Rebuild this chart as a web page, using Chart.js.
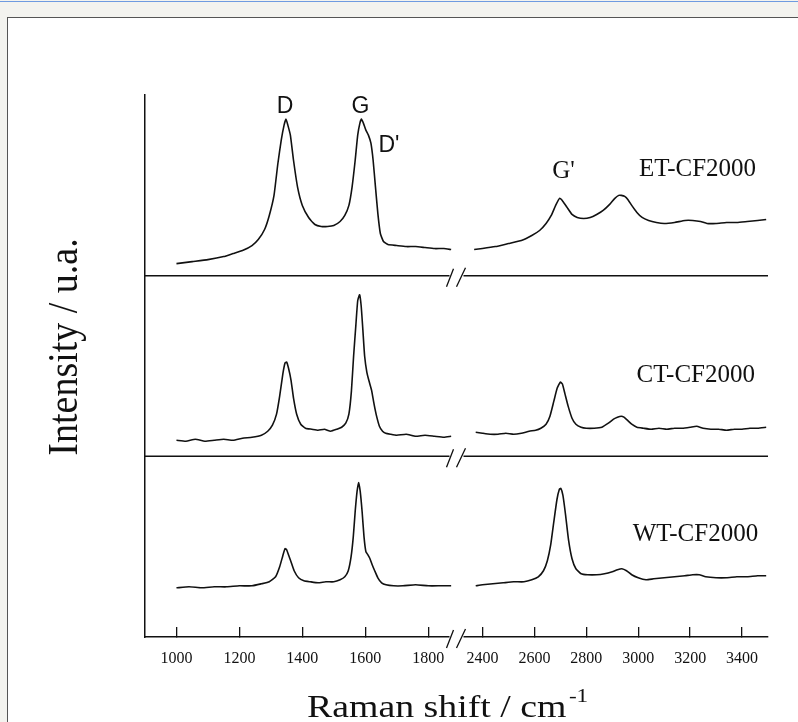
<!DOCTYPE html>
<html><head><meta charset="utf-8">
<script src="https://cdn.jsdelivr.net/npm/chart.js@4.4.1/dist/chart.umd.min.js"></script>
<style>
html,body{margin:0;padding:0;background:#f3f3ef;width:798px;height:722px;overflow:hidden;}
#topline{position:absolute;left:0;top:1px;width:798px;height:1px;background:#6f9be0;}
#frame{position:absolute;left:7px;top:17px;width:800px;height:720px;background:#fff;border:1px solid #555;}
#wrap{position:absolute;left:0;top:0;width:798px;height:722px;}
</style></head><body>
<div id="topline"></div><div id="frame"></div>
<div id="wrap"><canvas id="c" width="798" height="722"></canvas></div>
<script>
// ---- tick labels ----
const lowTicks  = [1000, 1200, 1400, 1600, 1800];
const highTicks = [2400, 2600, 2800, 3000, 3200, 3400];

// ---- ET-CF2000 ----
const etLowShift = [1000,1050,1100,1150,1180,1210,1240,1260,1280,1295,1310,1322,1333,1342,1348,1354,1362,1372,1385,1400,1420,1440,1460,1480,1500,1520,1535,1548,1558,1568,1576,1583,1588,1594,1602,1610,1618,1625,1632,1640,1648,1658,1672,1700,1730,1760,1790,1820,1850,1873];
const etLowInt   = [12,14,16,19,22,25,30,36,46,60,80,111,135,150,156,150,140,115,88,70,58,51,49,49,50,54,60,70,88,115,140,152,156,152,145,140,132,115,90,62,42,34,31,30,29,29,28,27,27,26];
const etHighShift = [2368,2400,2450,2500,2550,2590,2620,2645,2665,2682,2697,2710,2726,2745,2765,2790,2815,2840,2865,2890,2910,2925,2935,2948,2960,2975,2995,3015,3040,3070,3100,3140,3180,3210,3240,3265,3300,3340,3380,3420,3460,3493];
const etHighInt   = [26,27,29,32,35,40,45,52,60,70,77,74,68,61,58,57,58,61,65,71,77,80,80,79,76,70,63,58,55,53,52,53,55,55,54,52,52,53,53,54,55,56];

// ---- CT-CF2000 ----
const ctLowShift = [1000,1030,1060,1090,1120,1150,1180,1210,1240,1270,1290,1305,1318,1328,1338,1345,1350,1356,1364,1372,1382,1395,1410,1430,1450,1470,1490,1510,1525,1538,1548,1556,1563,1570,1576,1582,1587,1592,1598,1605,1612,1620,1628,1636,1645,1655,1665,1680,1700,1730,1760,1790,1820,1850,1873];
const ctLowInt   = [16,15,17,15,16,17,16,18,19,21,25,31,42,60,82,93,94,88,76,58,42,32,28,27,26,27,25,27,29,33,42,65,100,130,155,161,150,128,100,84,75,66,52,40,30,25,23,22,21,22,20,21,20,19,20];
const ctHighShift = [2374,2400,2430,2460,2490,2520,2550,2580,2605,2625,2645,2660,2675,2688,2700,2708,2718,2730,2745,2760,2780,2800,2830,2860,2885,2905,2920,2935,2945,2958,2975,2995,3020,3050,3080,3110,3140,3170,3200,3225,3250,3280,3310,3340,3370,3400,3430,3460,3493];
const ctHighInt   = [24,23,22,22,23,22,23,25,26,28,32,40,55,68,74,72,62,50,38,32,29,28,28,29,33,37,39,40,39,36,32,29,28,27,28,27,28,28,29,30,28,27,27,26,27,27,28,28,29];

// ---- WT-CF2000 ----
const wtLowShift = [1000,1040,1080,1120,1160,1200,1240,1270,1295,1315,1328,1338,1345,1350,1356,1364,1374,1388,1405,1425,1450,1475,1500,1520,1535,1546,1555,1562,1568,1574,1579,1584,1590,1596,1602,1608,1615,1622,1630,1640,1652,1666,1690,1720,1760,1800,1840,1873];
const wtLowInt   = [49,50,49,50,50,51,51,53,55,60,70,81,88,87,82,75,66,59,56,55,54,55,55,57,60,66,80,100,125,145,154,145,125,100,85,82,78,72,66,59,54,52,51,51,52,51,51,51];
const wtHighShift = [2374,2400,2440,2480,2520,2560,2590,2615,2635,2650,2663,2675,2687,2696,2702,2710,2720,2732,2745,2760,2780,2805,2840,2870,2900,2920,2937,2955,2975,3000,3030,3060,3100,3140,3180,3210,3235,3260,3300,3340,3380,3420,3460,3493];
const wtHighInt   = [51,52,53,54,55,55,57,60,66,76,92,115,137,147,148,141,122,96,78,68,63,62,62,63,65,67,68,66,62,59,57,58,59,60,61,62,62,60,59,59,60,60,61,61];

// ---- annotations ----
const annText  = ['D', 'G', "D'", "G'", 'ET-CF2000', 'CT-CF2000', 'WT-CF2000'];
const annAxis  = ['x1','x1','x1','x2','x2','x2','x2'];
const annShift = [1345, 1585, 1642, 2712, 3454, 3450, 3462];
const annPanel = ['yET','yET','yET','yET','yET','yCT','yWT'];
const annInt   = [162, 162, 123, 97, 99, 74, 96];
const annAlign = ['center','center','left','center','right','right','right'];
const annSans  = [true, true, true, false, false, false, false];

function pts(xs, ys){ return xs.map((x,i)=>({x:x, y:ys[i]})); }
function ds(xs, ys, xid, yid){
  return {data: pts(xs,ys), xAxisID:xid, yAxisID:yid, borderColor:'#111', borderWidth:1.6,
          pointRadius:0, fill:false, tension:0.15};
}

const INK = '#111';
function xScale(min, max, ticks){
  return {type:'linear', position:'bottom', stack:'x', stackWeight:1, min:min, max:max,
    afterBuildTicks: s => { s.ticks = ticks.map(v=>({value:v})); },
    ticks:{font:{family:'Liberation Serif', size:16}, color:INK, padding:22, maxRotation:0, autoSkip:false,
      callback: v => String(v)},
    grid:{display:true, drawOnChartArea:false, drawTicks:true, tickLength:-10, color:INK, lineWidth:1.3},
    border:{display:true, color:INK, width:1.5},
    afterFit: s => { s.height = 40; s.paddingLeft = 0; s.paddingRight = 0; }};
}
function yScale(){
  return {type:'linear', position:'left', stack:'y', stackWeight:1, min:0, max:180,
    ticks:{display:false}, grid:{display:false, drawTicks:false, tickLength:0},
    border:{display:true, color:INK, width:1.5},
    afterFit: s => { s.width = 0; s.paddingTop = 0; s.paddingBottom = 0; }};
}

const decor = {
  id:'decor',
  afterDraw(chart){
    const c = chart.ctx, sc = chart.scales;
    const cxBreak = sc.x1.right;
    const L = sc.x1.left, R = sc.x2.right;
    c.save();
    c.fillStyle = '#fff';
    c.fillRect(cxBreak-7, sc.yWT.bottom-3, 14, 6);
    c.strokeStyle = INK; c.lineWidth = 1.5;
    [sc.yET.bottom, sc.yCT.bottom].forEach(y=>{
      c.beginPath(); c.moveTo(L, y); c.lineTo(cxBreak-7, y); c.moveTo(cxBreak+7, y); c.lineTo(R, y); c.stroke();
    });
    c.lineWidth = 1.3;
    [sc.yET.bottom, sc.yCT.bottom, sc.yWT.bottom].forEach(y=>{
      c.beginPath();
      c.moveTo(cxBreak-10, y+11); c.lineTo(cxBreak-3, y-7);
      c.moveTo(cxBreak, y+11); c.lineTo(cxBreak+9, y-8);
      c.stroke();
    });
    c.fillStyle = INK; c.textBaseline = 'alphabetic';
    annText.forEach((t,i)=>{
      c.font = annSans[i] ? '23px "Liberation Sans"' : '25px "Liberation Serif"';
      c.textAlign = annAlign[i];
      c.fillText(t, sc[annAxis[i]].getPixelForValue(annShift[i]), sc[annPanel[i]].getPixelForValue(annInt[i]));
    });
    c.textAlign = 'left';
    c.save();
    c.translate(307, 717); c.scale(1.22, 1);
    c.font = '31px "Liberation Serif"';
    c.fillText('Raman shift / cm', 0, 0);
    const w = c.measureText('Raman shift / cm').width;
    c.font = '19px "Liberation Serif"';
    c.fillText('-1', w + 2, -15);
    c.restore();
    c.save();
    c.translate(77, 347); c.rotate(-Math.PI/2); c.scale(1, 1.1);
    c.textAlign = 'center';
    c.font = '38px "Liberation Serif"';
    c.fillText('Intensity / u.a.', 0, 0);
    c.restore();
    c.restore();
  }
};

new Chart(document.getElementById('c'), {
  type:'line',
  data:{datasets:[
    ds(etLowShift, etLowInt, 'x1', 'yET'), ds(etHighShift, etHighInt, 'x2', 'yET'),
    ds(ctLowShift, ctLowInt, 'x1', 'yCT'), ds(ctHighShift, ctHighInt, 'x2', 'yCT'),
    ds(wtLowShift, wtLowInt, 'x1', 'yWT'), ds(wtHighShift, wtHighInt, 'x2', 'yWT')
  ]},
  options:{
    responsive:false, animation:false, devicePixelRatio:1,
    layout:{autoPadding:false, padding:{left:145, right:30, top:95, bottom:45}},
    plugins:{legend:{display:false}, tooltip:{enabled:false}},
    scales:{
      x1: xScale(900, 1890, lowTicks),
      x2: xScale(2300, 3500, highTicks),
      yWT: yScale(), yCT: yScale(), yET: yScale()
    }
  },
  plugins:[decor]
});
</script>
</body></html>
